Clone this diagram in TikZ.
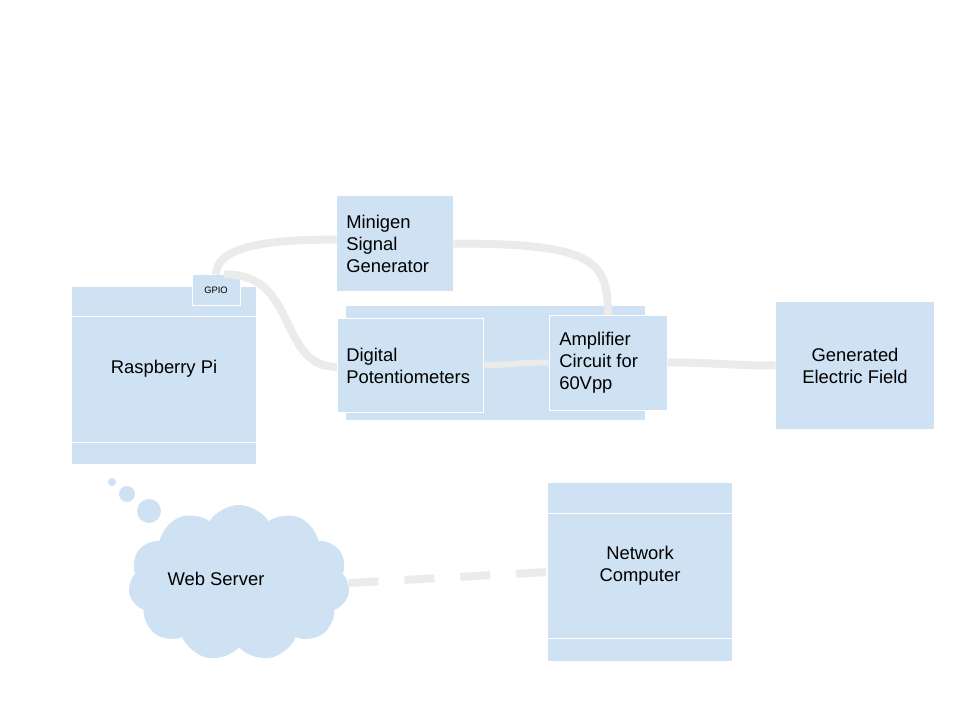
\documentclass[tikz,border=0pt]{standalone}
\usepackage{fontspec}
\setmainfont{Liberation Sans}
\usetikzlibrary{fit,shapes.symbols}
\definecolor{boxblue}{HTML}{CFE2F3}
\definecolor{linegray}{HTML}{EBEBEB}
\begin{document}
\begin{tikzpicture}[x=0.75pt,y=-0.75pt,
  blk/.style={fill=boxblue, draw=none, inner sep=0pt},
  blkw/.style={fill=boxblue, draw=white, line width=0.75pt, inner sep=0pt},
  lbl/.style={font=\fontsize{13.8}{16.5}\selectfont, align=center, inner sep=0pt},
  lbll/.style={font=\fontsize{13.8}{16.5}\selectfont, align=left, anchor=west, inner sep=0pt},
  conn/.style={draw=linegray, line width=6pt},
  sep/.style={draw=white, line width=0.75pt},
  bub/.style={circle, fill=boxblue, inner sep=0pt}]
\useasboundingbox (0,0) rectangle (960,720);
% background of the two inner boxes
\node[blk, fit={(346,306) (645,420)}] (bg) {};
% boxes
\node[blk, fit={(72,287) (256,464)}] (rpi) {};
\draw[sep] (rpi.west |- 0,316) -- (rpi.east |- 0,316);
\draw[sep] (rpi.west |- 0,442) -- (rpi.east |- 0,442);
\node[blkw, fit={(192,275) (240,306)}] (gpio) {};
\node[blk, fit={(337,196) (453,291)}] (mini) {};
% connectors
\draw[conn] (gpio.north) .. controls +(0,-28) and +(-70,0) .. ([yshift=3pt]mini.west);
\draw[conn] ([xshift=6pt]gpio.north) .. controls +(75,-2) and +(-60,0) .. (337,367);
\draw[conn] (mini.east) .. controls +(140,0) and +(0,-55) .. (608,315);
\node[blkw, fit={(337,318) (483,412)}] (digi) {};
\node[blkw, fit={(549,315) (667,410)}] (amp) {};
\node[blk, fit={(776,302) (934,429)}] (gef) {};
\node[blk, fit={(548,483) (732,661)}] (nc) {};
\draw[sep] (nc.west |- 0,513) -- (nc.east |- 0,513);
\draw[sep] (nc.west |- 0,638) -- (nc.east |- 0,638);
\node[cloud, cloud puffs=11, cloud puff arc=115, aspect=1.4, fill=boxblue, draw=none,
      minimum width=166pt, minimum height=117pt, inner sep=0pt] (ws) at (239,583) {};
\node[bub, minimum size=6pt] (b1) at (112,482) {};
\node[bub, minimum size=12pt] (b2) at (127,494) {};
\node[bub, minimum size=18pt] (b3) at (149,511) {};
% straight connectors
\draw[conn, line width=4.5pt] (digi.east) .. controls +(30,0) and +(-30,0) .. (amp.west);
\draw[conn] (amp.east) .. controls +(50,0) and +(-50,0) .. (gef.west);
\draw[conn, dash pattern=on 22.5pt off 19.5pt] (ws.east) -- (nc.west);
% labels
\node[font=\fontsize{7}{8}\selectfont, inner sep=0pt] (tg) at (216,290) {GPIO};
\node[lbl] (trpi) at (164,369) {Raspberry Pi};
\node[lbll] (tmini) at (346,244) {Minigen\\Signal\\Generator};
\node[lbll] (tdigi) at (346,366) {Digital\\Potentiometers};
\node[lbll] (tamp) at (559,363) {Amplifier\\Circuit for\\60Vpp};
\node[lbl] (tgef) at (855,366) {Generated\\Electric Field};
\node[lbl] (tnc) at (640,566) {Network\\Computer};
\node[lbl] (tws) at (216,579) {Web Server};
\end{tikzpicture}
\end{document}
